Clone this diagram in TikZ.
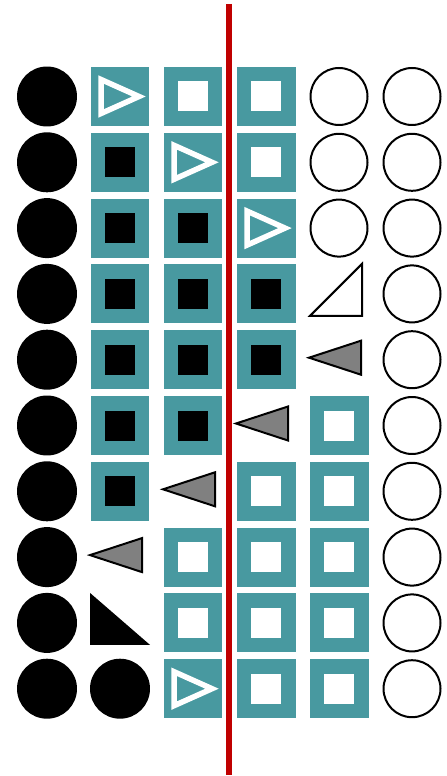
\documentclass[tikz,border=0pt]{standalone}
\definecolor{tealbg}{RGB}{72,153,160}
\definecolor{redrule}{RGB}{192,0,0}
\definecolor{grayfill}{RGB}{128,128,128}
\begin{document}
\begin{tikzpicture}[x=0.02cm,y=-0.02cm,
  dot/.style={circle, fill=black, minimum size=1.2cm, inner sep=0pt},
  ring/.style={circle, draw=black, line width=0.04cm, fill=white, minimum size=1.14cm, inner sep=0pt},
  tealbox/.style={fill=tealbg, minimum size=1.18cm, inner sep=0pt},
  whitesq/.style={fill=white, minimum size=0.6cm, inner sep=0pt},
  blacksq/.style={fill=black, minimum size=0.6cm, inner sep=0pt},
  opentri/.style={draw=white, line width=0.11cm, line join=miter},
  graytri/.style={draw=black, fill=grayfill, line width=0.04cm, line join=miter},
  cornertri/.style={draw=black, fill=white, line width=0.04cm, line join=miter}]
\useasboundingbox (0,0) rectangle (446,776);
% grid of cell centres
\foreach \c in {1,...,6}
  \foreach \r in {1,...,10}
    \coordinate (c\c-\r) at ({47+73*(\c-1)},{96.5+65.8*(\r-1)});
% outer columns
\foreach \r in {1,...,10} {
  \node[dot] (d1-\r) at (c1-\r) {};
  \node[ring] (o6-\r) at (c6-\r) {};
}
\node[dot] (d2-10) at (c2-10) {};
\foreach \r in {1,2,3}
  \node[ring] (o5-\r) at (c5-\r) {};
% teal boxes, white hole
\foreach \p in {3-1,4-1,4-2,3-8,3-9,4-7,4-8,4-9,4-10,5-6,5-7,5-8,5-9,5-10} {
  \node[tealbox] (t\p) at (c\p) {};
  \node[whitesq] (h\p) at (c\p) {};
}
% teal boxes, black hole
\foreach \p in {2-2,2-3,2-4,2-5,2-6,2-7,3-3,3-4,3-5,3-6,4-4,4-5} {
  \node[tealbox] (t\p) at (c\p) {};
  \node[blacksq] (h\p) at (c\p) {};
}
% teal boxes, open triangle
\foreach \p in {2-1,3-2,4-3,3-10} {
  \node[tealbox] (t\p) at (c\p) {};
  \draw[opentri] (t\p.center) ++(-19,-17) -- ++(38,17) -- ++(-38,17) -- cycle;
}
% gray triangles
\foreach \p in {2-8,3-7,4-6,5-5}
  \draw[graytri] (c\p) ++(-30,-2) -- ++(52,-17) -- ++(0,34) -- cycle;
% right triangles
\fill[black] (c2-9) ++(-30,-30) -- ++(0,52) -- ++(60,0) -- cycle;
\draw[cornertri] (c5-4) ++(-29,22) -- ++(52,0) -- ++(0,-52) -- cycle;
% red line
\coordinate (rtop) at (229,4);
\coordinate (rbot) at (229,775);
\draw[redrule, line width=0.12cm] (rtop) -- (rbot);
\end{tikzpicture}
\end{document}
